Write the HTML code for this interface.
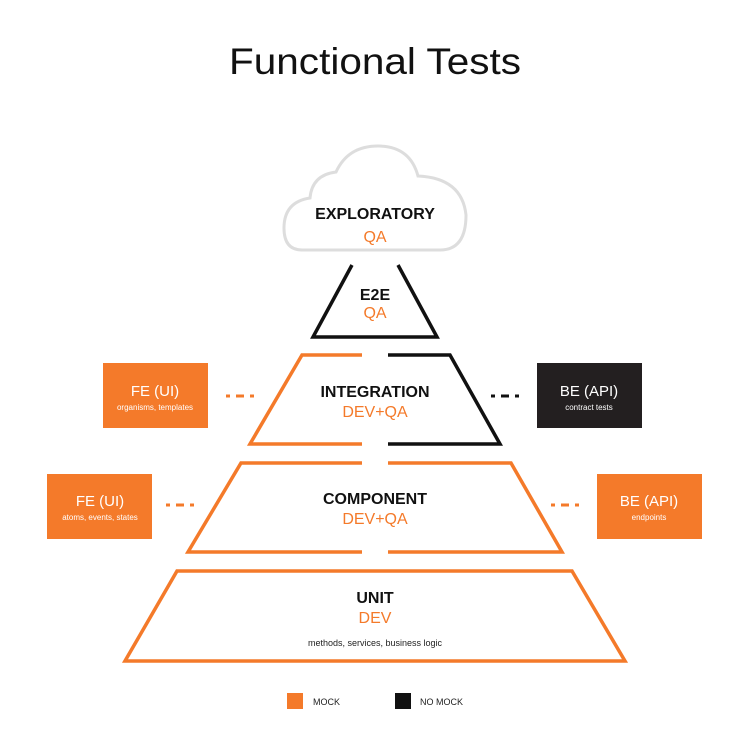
<!DOCTYPE html>
<html><head><style>
body{margin:0;background:#fff;}
svg text{font-family:"Liberation Sans",sans-serif;}
</style></head><body>
<svg width="750" height="750" viewBox="0 0 750 750" xmlns="http://www.w3.org/2000/svg">
<text x="375" y="74" text-anchor="middle" font-size="37" fill="#111" textLength="292" lengthAdjust="spacingAndGlyphs">Functional Tests</text>
<!-- cloud -->
<path d="M302,250 Q284,250 284,228 Q284,202 310,198 Q312,175 336,172 Q348,146 378,146 Q410,146 418,176 Q462,178 466,215 Q466,250 440,250 Z" fill="#fff" stroke="#ddd" stroke-width="3"/>
<text x="375" y="219" text-anchor="middle" font-size="16" font-weight="bold" fill="#111">EXPLORATORY</text>
<text x="375" y="242" text-anchor="middle" font-size="16" fill="#f47a2a">QA</text>
<!-- E2E -->
<polyline points="352,265 313,337 437,337 398,265" fill="none" stroke="#111" stroke-width="3.5"/>
<text x="375" y="300" text-anchor="middle" font-size="16" font-weight="bold" fill="#111">E2E</text>
<text x="375" y="318" text-anchor="middle" font-size="16" fill="#f47a2a">QA</text>
<!-- Integration -->
<polyline points="362,355 302,355 250,444 362,444" fill="none" stroke="#f47a2a" stroke-width="3.5"/>
<polyline points="388,355 450,355 500,444 388,444" fill="none" stroke="#111" stroke-width="3.5"/>
<text x="375" y="397" text-anchor="middle" font-size="16" font-weight="bold" fill="#111">INTEGRATION</text>
<text x="375" y="417" text-anchor="middle" font-size="16" fill="#f47a2a">DEV+QA</text>
<!-- Component -->
<polyline points="362,463 241,463 188,552 362,552" fill="none" stroke="#f47a2a" stroke-width="3.5"/>
<polyline points="388,463 511,463 562,552 388,552" fill="none" stroke="#f47a2a" stroke-width="3.5"/>
<text x="375" y="504" text-anchor="middle" font-size="16" font-weight="bold" fill="#111">COMPONENT</text>
<text x="375" y="524" text-anchor="middle" font-size="16" fill="#f47a2a">DEV+QA</text>
<!-- Unit -->
<polygon points="177,571 572,571 625,661 125,661" fill="none" stroke="#f47a2a" stroke-width="3.5"/>
<text x="375" y="603" text-anchor="middle" font-size="16" font-weight="bold" fill="#111">UNIT</text>
<text x="375" y="623" text-anchor="middle" font-size="16" fill="#f47a2a">DEV</text>
<text x="375" y="646" text-anchor="middle" font-size="9" fill="#222">methods, services, business logic</text>
<!-- side boxes -->
<rect x="103" y="363" width="105" height="65" fill="#f47a2a"/>
<text x="155" y="396" text-anchor="middle" font-size="15" fill="#fff">FE (UI)</text>
<text x="155" y="410" text-anchor="middle" font-size="8" fill="#fff">organisms, templates</text>
<rect x="537" y="363" width="105" height="65" fill="#231f20"/>
<text x="589" y="396" text-anchor="middle" font-size="15" fill="#fff">BE (API)</text>
<text x="589" y="410" text-anchor="middle" font-size="8" fill="#fff">contract tests</text>
<rect x="47" y="474" width="105" height="65" fill="#f47a2a"/>
<text x="100" y="506" text-anchor="middle" font-size="15" fill="#fff">FE (UI)</text>
<text x="100" y="520" text-anchor="middle" font-size="8" fill="#fff">atoms, events, states</text>
<rect x="597" y="474" width="105" height="65" fill="#f47a2a"/>
<text x="649" y="506" text-anchor="middle" font-size="15" fill="#fff">BE (API)</text>
<text x="649" y="520" text-anchor="middle" font-size="8" fill="#fff">endpoints</text>
<!-- dashes -->
<g stroke-width="3">
<path d="M226,396h4M236,396h8M250,396h4" stroke="#f47a2a"/>
<path d="M491,396h4M501,396h8M515,396h4" stroke="#111"/>
<path d="M166,505h4M176,505h8M190,505h4" stroke="#f47a2a"/>
<path d="M551,505h4M561,505h8M575,505h4" stroke="#f47a2a"/>
</g>
<!-- legend -->
<rect x="287" y="693" width="16" height="16" fill="#f47a2a"/>
<text x="313" y="705" font-size="9" fill="#222">MOCK</text>
<rect x="395" y="693" width="16" height="16" fill="#111"/>
<text x="420" y="705" font-size="9" fill="#222">NO MOCK</text>
</svg>
</body></html>
